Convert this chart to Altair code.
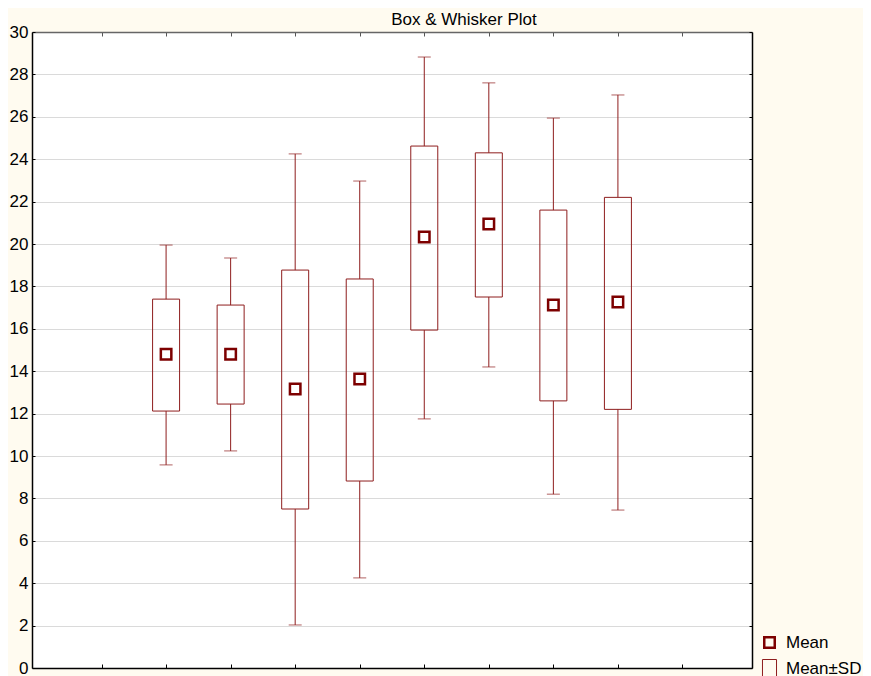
import altair as alt
import pandas as pd

# ---- data ----
positions = [2, 3, 4, 5, 6, 7, 8, 9]
whisker_low = [9.58, 10.24, 2.03, 4.25, 11.75, 14.20, 8.20, 7.45]
box_low = [12.12, 12.45, 7.50, 8.82, 15.94, 17.50, 12.60, 12.20]
means = [14.80, 14.80, 13.16, 13.63, 20.33, 20.94, 17.12, 17.26]
box_high = [17.40, 17.12, 18.77, 18.35, 24.62, 24.30, 21.60, 22.20]
whisker_high = [19.95, 19.34, 24.25, 22.97, 28.82, 27.60, 25.94, 27.03]
x_ticks = [1, 2, 3, 4, 5, 6, 7, 8, 9, 10]
y_ticks = [0, 2, 4, 6, 8, 10, 12, 14, 16, 18, 20, 22, 24, 26, 28, 30]
legend_labels = ["Mean", "Mean\u00b1SD"]

df = pd.DataFrame({
    "pos": positions, "wlo": whisker_low, "blo": box_low, "mean": means,
    "bhi": box_high, "whi": whisker_high,
})
legend_df = pd.DataFrame({"series": legend_labels})

W, H = 720, 636
MEAN_C = "#7d0000"
BOX_C = "#8e1d1d"
FONT = "Liberation Sans"

xs = alt.Scale(domain=[0, 11], nice=False, zero=False)
ys = alt.Scale(domain=[0, 30], nice=False, zero=False)

# axes (inward ticks by placing opposite-oriented axes with negative offset)
x_bottom = alt.X("pos:Q", scale=xs, title=None, axis=alt.Axis(
    orient="top", offset=-H, values=x_ticks, labels=False, grid=False,
    tickSize=4, tickColor="black", domainColor="black", domainWidth=1.5))
x_top = alt.X("pos:Q", scale=xs, title=None, axis=alt.Axis(
    orient="bottom", offset=-H, values=x_ticks, labels=False, grid=False,
    tickSize=4, tickColor="#555555", domainColor="#666666", domainWidth=1.5))
x_none = alt.X("pos:Q", scale=xs, axis=None)

y_left = alt.Y("wlo:Q", scale=ys, title=None, axis=alt.Axis(
    orient="left", values=y_ticks, grid=True, gridColor="#dadada", gridWidth=1,
    ticks=False, tickSize=0, labelPadding=4, domainColor="black", domainWidth=1.5,
    labelFont=FONT, labelFontSize=17, labelColor="black"))
y_inner_left = alt.Y("bhi:Q", scale=ys, title=None, axis=alt.Axis(
    orient="right", offset=-W, values=y_ticks, labels=False, grid=False,
    tickSize=3, tickColor="black", domain=False))
y_right = alt.Y("whi:Q", scale=ys, title=None, axis=alt.Axis(
    orient="left", offset=-W, values=y_ticks, labels=False, grid=False,
    tickSize=3, tickColor="black", domainColor="black", domainWidth=1.5))

base = alt.Chart(df)

rule_low = base.mark_rule(color=BOX_C, strokeWidth=1).encode(
    x=x_bottom, y=y_left, y2="blo:Q")
rule_high = base.mark_rule(color=BOX_C, strokeWidth=1).encode(
    x=x_top, y=y_inner_left, y2="whi:Q")
cap_high = base.mark_tick(color=BOX_C, thickness=1, size=13, orient="horizontal").encode(
    x=x_none, y=y_right)
cap_low = base.mark_tick(color=BOX_C, thickness=1, size=13, orient="horizontal").encode(
    x=x_none, y=alt.Y("wlo:Q", scale=ys, axis=None))
boxes = base.mark_bar(fill="transparent", stroke=BOX_C, strokeWidth=1, size=27).encode(
    x=x_none, y=alt.Y("blo:Q", scale=ys, axis=None), y2="bhi:Q")
mean_pts = base.mark_point(shape="square", size=110, filled=False, color=MEAN_C,
                           strokeWidth=2.5, opacity=1).encode(
    x=x_none, y=alt.Y("mean:Q", scale=ys, axis=None))

leg = alt.Legend(orient="none", legendX=728, legendY=602, title=None,
                 labelFont=FONT, labelFontSize=17, labelColor="black",
                 symbolOpacity=1, labelOffset=7, rowPadding=4)
legend_layer = alt.Chart(legend_df).mark_point(filled=False, opacity=0).encode(
    shape=alt.Shape("series:N", legend=leg, scale=alt.Scale(
        domain=legend_labels,
        range=["M-1,-1H1V1H-1Z", "M-0.78,-1H0.78V1H-0.78Z"])),
    size=alt.Size("series:N", legend=leg, scale=alt.Scale(
        domain=legend_labels, range=[110, 324])),
    strokeWidth=alt.StrokeWidth("series:N", legend=leg, scale=alt.Scale(
        domain=legend_labels, range=[2.5, 1])),
    stroke=alt.Stroke("series:N", legend=leg, scale=alt.Scale(
        domain=legend_labels, range=[MEAN_C, BOX_C])),
)

chart = alt.layer(
    rule_low, rule_high, cap_high, cap_low, boxes, mean_pts, legend_layer
).resolve_axis(x="independent", y="independent").properties(
    width=W, height=H,
    autosize=alt.AutoSizeParams(type="none"),
    padding={"left": 24, "top": 24, "right": 111, "bottom": 8},
    view=alt.ViewBackground(fill="white", stroke="transparent"),
    title=alt.TitleParams("Box & Whisker Plot", font=FONT, fontSize=17,
                          fontWeight="normal", color="black", anchor="middle",
                          dx=72, offset=-6),
).configure(background="#FFFBF0").configure_view(fill="white", stroke="transparent")

chart.save("out.html", embed_options={"renderer": "svg", "actions": False})
